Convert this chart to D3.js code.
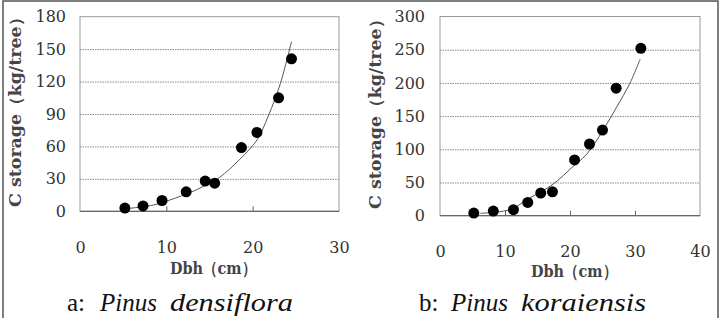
<!DOCTYPE html>
<html>
<head>
<meta charset="utf-8">
<script src="https://cdn.jsdelivr.net/npm/d3@7"></script>
<style>
  body { margin: 0; background: #fff; }
  svg { display: block; }
  .tick text { font-family: "DejaVu Serif", serif; font-size: 16px; fill: #333; }
  .axt { font-family: "DejaVu Serif", serif; font-weight: bold; fill: #444; }
</style>
</head>
<body>
<svg id="chart" width="722" height="318"></svg>
<script>
// panel a: Pinus densiflora
const dbhDensiflora = [5.2, 7.3, 9.5, 12.3, 14.5, 15.6, 18.7, 20.5, 23.0, 24.5];
const cDensiflora = [3, 5, 10, 18, 28, 26, 59, 73, 105, 141];
const trendDbhDensiflora = [5.8, 8.5, 10.4, 13.1, 15.1, 16.2, 18.5, 20.5, 21.8, 23.2, 24.5];
const trendCDensiflora = [2.8, 5.8, 10.4, 18.5, 26.5, 31.5, 48, 66, 88, 118, 157];
const xTicksA = [0, 10, 20, 30];
const yTicksA = [0, 30, 60, 90, 120, 150, 180];

// panel b: Pinus koraiensis
const dbhKoraiensis = [5.2, 8.2, 11.3, 13.5, 15.5, 17.3, 20.7, 23.0, 25.0, 27.1, 30.9];
const cKoraiensis = [4, 7, 9, 20, 34, 36, 84, 108, 129, 192, 252];
const trendDbhKoraiensis = [6.2, 9.2, 11.3, 13.3, 15.9, 18.0, 20.0, 22.6, 25.1, 27.2, 29.2, 30.8];
const trendCKoraiensis = [3.6, 6, 11, 24, 38, 52, 70, 93, 129, 164, 199, 236];
const xTicksB = [0, 10, 20, 30, 40];
const yTicksB = [0, 50, 100, 150, 200, 250, 300];

const yTitle = "C storage（kg/tree）";
const xTitle = "Dbh（cm）";

const svg = d3.select("#chart");

// outer frame of the figure
svg.append("rect")
    .attr("x", 3).attr("y", 1)
    .attr("width", 715).attr("height", 330)
    .attr("fill", "none").attr("stroke", "#555").attr("stroke-width", 1.5);

function drawPanel(p){
    let x = d3.scaleLinear().domain([0, p.xTicks[p.xTicks.length-1]]).range([p.left, p.right]);
    let y = d3.scaleLinear().domain([0, p.yTicks[p.yTicks.length-1]]).range([p.bottom, p.top]);
    let g = svg.append("g");

    // dotted gridlines
    g.append("g")
        .attr("transform", "translate(" + p.left + ",0)")
        .call(d3.axisLeft(y).tickValues(p.yTicks.slice(1, -1)).tickSize(-(p.right - p.left)).tickFormat(""))
        .call(a => a.select(".domain").remove())
        .selectAll("line").attr("stroke", "#8a8a8a").attr("stroke-dasharray", "1.5,1");

    // plot box
    g.append("rect")
        .attr("x", p.left).attr("y", p.top)
        .attr("width", p.right - p.left).attr("height", p.bottom - p.top)
        .attr("fill", "none").attr("stroke", "#999").attr("stroke-width", 1);
    g.append("line")
        .attr("x1", p.left).attr("x2", p.right).attr("y1", p.bottom).attr("y2", p.bottom)
        .attr("stroke", "#666").attr("stroke-width", 1.2);

    // inward tick marks on the x axis
    g.append("g")
        .attr("transform", "translate(0," + p.bottom + ")")
        .call(d3.axisTop(x).tickValues(p.xTicks.slice(1, -1)).tickSize(5).tickFormat(""))
        .call(a => a.select(".domain").remove())
        .selectAll("line").attr("stroke", "#666");

    // x tick labels
    g.append("g")
        .attr("transform", "translate(0," + p.bottom + ")")
        .call(d3.axisBottom(x).tickValues(p.xTicks).tickSize(0).tickPadding(p.xPad))
        .call(a => a.select(".domain").remove());

    // y tick labels
    g.append("g")
        .attr("transform", "translate(" + p.left + ",0)")
        .call(d3.axisLeft(y).tickValues(p.yTicks).tickSize(0).tickPadding(p.yPad))
        .call(a => a.select(".domain").remove());

    // fitted curve
    let trend = p.trendX.map((d, i) => [d, p.trendY[i]]);
    g.append("path")
        .datum(trend)
        .attr("d", d3.line().x(d => x(d[0])).y(d => y(d[1])).curve(d3.curveCatmullRom))
        .attr("fill", "none").attr("stroke", "#555").attr("stroke-width", 1);

    // observed points
    g.selectAll("circle.pt").data(p.xs).enter().append("circle")
        .attr("class", "pt")
        .attr("cx", d => x(d))
        .attr("cy", (d, i) => y(p.ys[i]))
        .attr("r", 5.5)
        .attr("fill", "#000");

    // axis titles
    g.append("text").attr("class", "axt")
        .attr("transform", "translate(" + p.yTitleX + "," + p.yTitleY + ") rotate(-90)")
        .attr("text-anchor", "middle")
        .attr("font-size", 16)
        .attr("textLength", 198).attr("lengthAdjust", "spacingAndGlyphs")
        .text(yTitle);
    g.append("text").attr("class", "axt")
        .attr("x", p.xTitleX).attr("y", p.xTitleY)
        .attr("font-size", 17)
        .attr("textLength", 86).attr("lengthAdjust", "spacingAndGlyphs")
        .text(xTitle);

    // panel caption
    let cap = g.append("text")
        .attr("y", 311)
        .attr("font-family", "'Liberation Serif', 'Times New Roman', serif")
        .attr("font-size", 25).attr("fill", "#111");
    cap.append("tspan").attr("x", p.cap[0]).text(p.label);
    cap.append("tspan").attr("x", p.cap[1]).attr("font-style", "italic").text("Pinus");
    cap.append("tspan").attr("x", p.cap[2]).attr("font-style", "italic")
        .attr("textLength", p.cap[3]).attr("lengthAdjust", "spacingAndGlyphs").text(p.species);
}

drawPanel({
    xs: dbhDensiflora, ys: cDensiflora, trendX: trendDbhDensiflora, trendY: trendCDensiflora,
    xTicks: xTicksA, yTicks: yTicksA,
    left: 80, right: 339, top: 16.7, bottom: 211.3,
    xPad: 30, yPad: 14,
    yTitleX: 21, yTitleY: 108, xTitleX: 170, xTitleY: 274,
    label: "a:", species: "densiflora", cap: [67, 100, 170, 123]
});

drawPanel({
    xs: dbhKoraiensis, ys: cKoraiensis, trendX: trendDbhKoraiensis, trendY: trendCKoraiensis,
    xTicks: xTicksB, yTicks: yTicksB,
    left: 440, right: 700, top: 16.5, bottom: 215.7,
    xPad: 30, yPad: 15,
    yTitleX: 381, yTitleY: 110, xTitleX: 531, xTitleY: 277,
    label: "b:", species: "koraiensis", cap: [419, 451, 521, 125]
});
</script>
</body>
</html>
